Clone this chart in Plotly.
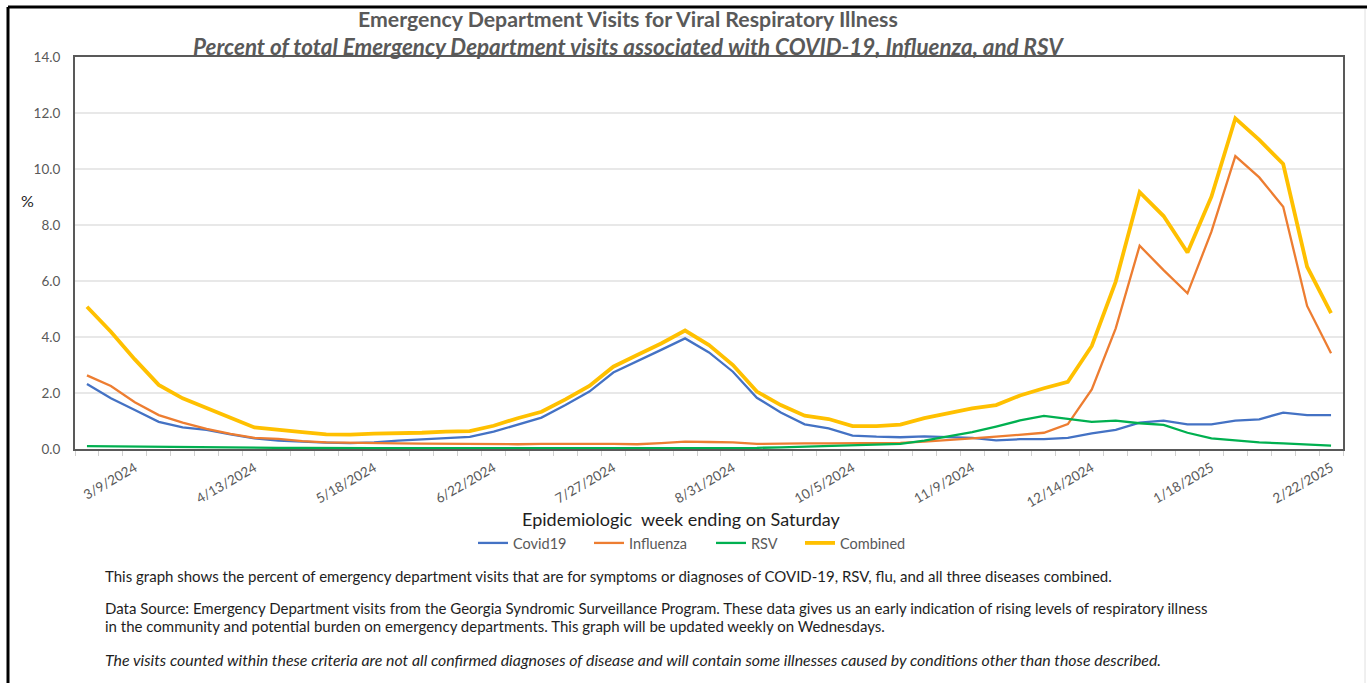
import pandas as pd
import plotly.graph_objects as go

# ---- data (weekly, epidemiologic week ending Saturday) ----
weeks = pd.date_range("2024-02-24", periods=53, freq="7D")
week_labels = [f"{d.month}/{d.day}/{d.year}" for d in weeks]

covid19 = [2.32, 1.81, 1.39, 0.97, 0.77, 0.68, 0.52, 0.38, 0.30, 0.26,
           0.23, 0.21, 0.24, 0.30, 0.35, 0.39, 0.43, 0.62, 0.86, 1.12,
           1.57, 2.05, 2.73, 3.15, 3.54, 3.95, 3.45, 2.76, 1.83, 1.30,
           0.88, 0.74, 0.48, 0.44, 0.42, 0.45, 0.43, 0.40, 0.31, 0.35,
           0.35, 0.40, 0.56, 0.68, 0.94, 1.01, 0.88, 0.88, 1.01, 1.06,
           1.30, 1.21, 1.21]
influenza = [2.63, 2.25, 1.67, 1.21, 0.94, 0.72, 0.54, 0.40, 0.36, 0.28,
             0.24, 0.22, 0.22, 0.20, 0.19, 0.18, 0.18, 0.18, 0.17, 0.18,
             0.19, 0.18, 0.18, 0.17, 0.21, 0.26, 0.25, 0.24, 0.18, 0.20,
             0.20, 0.20, 0.20, 0.20, 0.22, 0.26, 0.33, 0.38, 0.44, 0.52,
             0.58, 0.89, 2.13, 4.31, 7.26, 6.39, 5.56, 7.76, 10.46, 9.70,
             8.65, 5.11, 3.42]
rsv = [0.10, 0.09, 0.09, 0.09, 0.08, 0.06, 0.05, 0.05, 0.04, 0.04,
       0.03, 0.03, 0.03, 0.03, 0.03, 0.02, 0.02, 0.02, 0.02, 0.02,
       0.02, 0.02, 0.02, 0.02, 0.02, 0.02, 0.03, 0.03, 0.04, 0.06,
       0.08, 0.10, 0.12, 0.14, 0.18, 0.30, 0.45, 0.60, 0.80, 1.02,
       1.18, 1.07, 0.97, 1.01, 0.92, 0.86, 0.58, 0.38, 0.30, 0.24,
       0.20, 0.17, 0.12]
combined = [5.08, 4.19, 3.20, 2.29, 1.81, 1.45, 1.12, 0.77, 0.70, 0.60,
            0.52, 0.51, 0.55, 0.56, 0.58, 0.62, 0.64, 0.83, 1.10, 1.33,
            1.77, 2.25, 2.94, 3.36, 3.77, 4.23, 3.71, 3.00, 2.05, 1.57,
            1.19, 1.07, 0.82, 0.82, 0.87, 1.10, 1.27, 1.45, 1.57, 1.91,
            2.17, 2.40, 3.68, 5.98, 9.17, 8.32, 7.02, 9.01, 11.81, 11.04,
            10.18, 6.51, 4.85]

tick_labels = ["3/9/2024", "4/13/2024", "5/18/2024", "6/22/2024", "7/27/2024",
               "8/31/2024", "10/5/2024", "11/9/2024", "12/14/2024", "1/18/2025",
               "2/22/2025"]
tick_index = [week_labels.index(t) for t in tick_labels]

series = [
    ("Covid19", covid19, "#4472C4", 2.3),
    ("Influenza", influenza, "#ED7D31", 2.3),
    ("RSV", rsv, "#00B050", 2.3),
    ("Combined", combined, "#FFC000", 3.8),
]

W, H = 1367, 683
L, R, T, B = 75, 1343, 57, 449  # plot area in pixels


def px(xp):
    return (xp - L) / (R - L)


def py(yp):
    return (B - yp) / (B - T)


FONT = "Lato, 'Open Sans', sans-serif"
GRAY = "#595959"
DARK = "#1e1e1e"

legend_ids = ["legend", "legend2", "legend3", "legend4"]
legend_text_x = [513, 629, 751, 840]   # where each legend label starts (px)

xs = list(range(len(weeks)))
fig = go.Figure()
for (name, vals, color, width), lid in zip(series, legend_ids):
    fig.add_trace(go.Scatter(
        x=xs, y=vals, name=name, mode="lines",
        line=dict(color=color, width=width),
        legend=lid,
        customdata=week_labels,
        hovertemplate="%{customdata}: %{y:.2f}%<extra>" + name + "</extra>",
    ))

legend_layout = {}
for lid, tx in zip(legend_ids, legend_text_x):
    legend_layout[lid] = dict(
        orientation="h", x=px(tx - 40), xanchor="left",
        y=py(543), yanchor="middle",
        font=dict(size=14.5, color=GRAY), itemwidth=30,
        bgcolor="rgba(0,0,0,0)")

fig.update_layout(
    width=W, height=H,
    margin=dict(l=L, r=W - R, t=T, b=H - B),
    paper_bgcolor="white", plot_bgcolor="white",
    font=dict(family=FONT, color=GRAY, size=13),
    showlegend=True,
    **legend_layout,
    xaxis=dict(
        range=[-0.5, len(weeks) - 0.5],
        tickmode="array", tickvals=tick_index, ticktext=tick_labels,
        tickangle=-30, ticks="", ticklabelstandoff=4,
        tickfont=dict(size=13.5, color=GRAY),
        showgrid=False, zeroline=False,
        showline=True, linecolor="#595959", linewidth=2, mirror=True,
        minor=dict(ticks="outside", tick0=-0.5, dtick=1, ticklen=5,
                   tickcolor="#d0d0d0", tickwidth=1, showgrid=False),
    ),
    yaxis=dict(
        range=[0, 14], tickmode="linear", tick0=0, dtick=2, tickformat=".1f",
        tickfont=dict(size=13.5, color=GRAY), ticks="", ticklabelstandoff=10,
        showgrid=True, gridcolor="#e8e8e8", gridwidth=2,
        zeroline=False,
        showline=True, linecolor="#595959", linewidth=2, mirror=True,
    ),
)

annotations = [
    dict(text="<b>Emergency Department Visits for Viral Respiratory Illness</b>",
         x=px(628), y=py(19), font=dict(size=21.3, color=GRAY)),
    dict(text="<b><i>Percent of total Emergency Department visits associated with COVID-19, Influenza, and RSV</i></b>",
         x=px(628), y=py(46.5), font=dict(size=22.4, color=GRAY)),
    dict(text="%", x=px(27), y=py(200), font=dict(size=16, color=DARK)),
    dict(text="Epidemiologic  week ending on Saturday",
         x=px(681), y=py(519), font=dict(size=18, color=DARK)),
    dict(text="This graph shows the percent of emergency department visits that are for symptoms or diagnoses of COVID-19, RSV, flu, and all three diseases combined.",
         x=px(103), y=py(576), xanchor="left", font=dict(size=15, color=DARK)),
    dict(text="Data Source: Emergency Department visits from the Georgia Syndromic Surveillance Program. These data gives us an early indication of rising levels of respiratory illness",
         x=px(103), y=py(608), xanchor="left", font=dict(size=15, color=DARK)),
    dict(text="in the community and potential burden on emergency departments. This graph will be updated weekly on Wednesdays.",
         x=px(103), y=py(626), xanchor="left", font=dict(size=15, color=DARK)),
    dict(text="<i>The visits counted within these criteria are not all confirmed diagnoses of disease and will contain some illnesses caused by conditions other than those described.</i>",
         x=px(103), y=py(659), xanchor="left", font=dict(size=15.9, color=DARK)),
]
for a in annotations:
    a.setdefault("xanchor", "center")
    fig.add_annotation(xref="paper", yref="paper", showarrow=False,
                       yanchor="middle", **a)

# outer frame of the original picture
fig.add_shape(type="line", xref="paper", yref="paper",
              x0=px(8), x1=px(1367), y0=py(7), y1=py(7),
              line=dict(color="black", width=3))
fig.add_shape(type="line", xref="paper", yref="paper",
              x0=px(8), x1=px(8), y0=py(7), y1=py(683),
              line=dict(color="black", width=3))
fig.add_shape(type="line", xref="paper", yref="paper",
              x0=px(1365), x1=px(1365), y0=py(9), y1=py(683),
              line=dict(color="#e0e0e0", width=1))

fig.write_html("out.html",
               config={"displayModeBar": False},
               post_script="document.body.style.margin='0px';document.body.style.overflow='hidden';")
